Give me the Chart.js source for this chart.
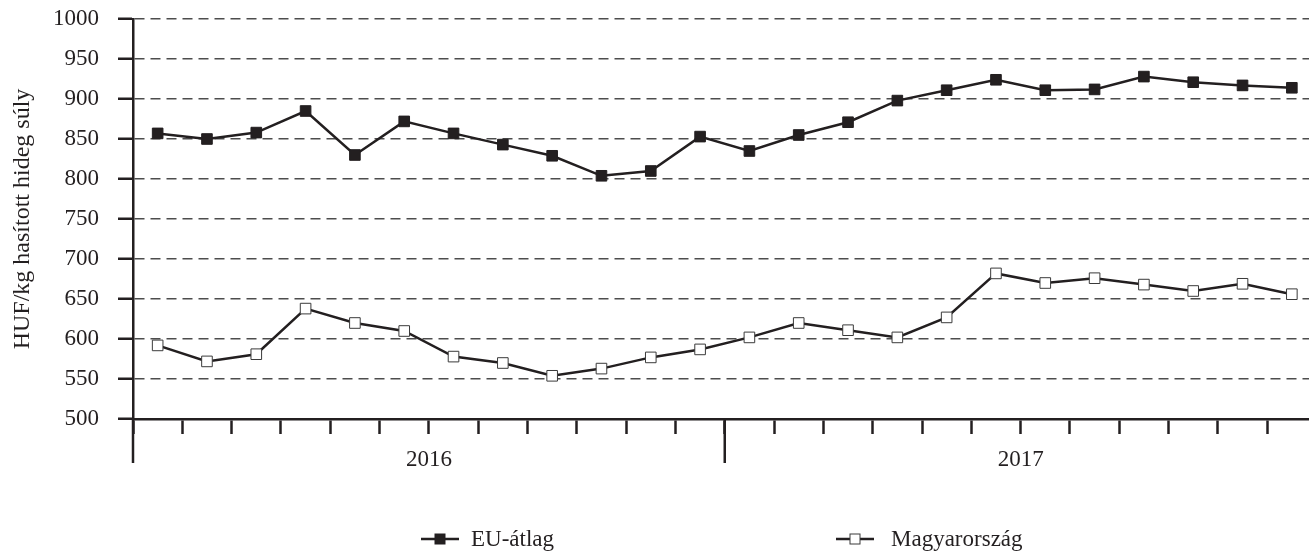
<!DOCTYPE html>
<html lang="hu">
<head>
    <meta charset="UTF-8">
    <title>Vágott sertés ára</title>
    <script src="https://cdn.jsdelivr.net/npm/chart.js"></script>
    <style>
        html, body { margin: 0; padding: 0; background: #fff; overflow: hidden; }
        .chart-box { width: 1309px; height: 553px; overflow: hidden; }
        canvas { display: block; }
    </style>
</head>
<body>
    <div class="chart-box">
        <!-- a vászon kicsit szélesebb, a jobb szél kilóg, mint az eredetin -->
        <canvas id="priceChart" width="1325" height="553"></canvas>
    </div>

    <script>
        // havi adatok, 2016-2017
        const months = ["2016-01", "2016-02", "2016-03", "2016-04", "2016-05", "2016-06",
                        "2016-07", "2016-08", "2016-09", "2016-10", "2016-11", "2016-12",
                        "2017-01", "2017-02", "2017-03", "2017-04", "2017-05", "2017-06",
                        "2017-07", "2017-08", "2017-09", "2017-10", "2017-11", "2017-12"];
        const years = ["2016", "2017"];
        const euValues = [857, 850, 858, 885, 830, 872, 857, 843, 829, 804, 810, 853,
                          835, 855, 871, 898, 911, 924, 911, 912, 928, 921, 917, 914];
        const huValues = [592, 572, 581, 638, 620, 610, 578, 570, 554, 563, 577, 587,
                          602, 620, 611, 602, 627, 682, 670, 676, 668, 660, 669, 656];
        const yTicks = [500, 550, 600, 650, 700, 750, 800, 850, 900, 950, 1000];

        const ink = "#231f20";
        const font = "Liberation Serif";
        const fontSize = 23;

        // évek, hosszú osztások és jelmagyarázat
        const extras = {
            id: "extras",
            afterDraw(chart) {
                const ctx = chart.ctx;
                const x = chart.scales.x;
                const bottom = x.top;
                const perYear = months.length / years.length;
                ctx.save();
                ctx.strokeStyle = ink;
                ctx.lineWidth = 2.5;
                for (let i = 0; i < years.length; i++) {
                    const x0 = i === 0 ? x.left : (x.getPixelForValue(i * perYear - 1) + x.getPixelForValue(i * perYear)) / 2;
                    ctx.beginPath();
                    ctx.moveTo(x0, bottom);
                    ctx.lineTo(x0, bottom + 44);
                    ctx.stroke();
                }
                ctx.fillStyle = ink;
                ctx.font = fontSize + "px '" + font + "'";
                ctx.textAlign = "center";
                ctx.textBaseline = "alphabetic";
                years.forEach((yr, i) => {
                    const a = x.getPixelForValue(i * perYear);
                    const b = x.getPixelForValue((i + 1) * perYear - 1);
                    ctx.fillText(yr, (a + b) / 2, bottom + 47);
                });

                // jelmagyarázat
                const items = [{ cx: 440, tx: 471 }, { cx: 855, tx: 891 }];
                const ly = 539;
                chart.data.datasets.forEach((ds, i) => {
                    const it = items[i];
                    ctx.strokeStyle = ink;
                    ctx.lineWidth = 2.5;
                    ctx.beginPath();
                    ctx.moveTo(it.cx - 19, ly);
                    ctx.lineTo(it.cx + 19, ly);
                    ctx.stroke();
                    ctx.fillStyle = ds.pointBackgroundColor;
                    ctx.fillRect(it.cx - 5, ly - 5, 10, 10);
                    ctx.lineWidth = 1;
                    ctx.strokeStyle = ds.pointBorderColor;
                    ctx.strokeRect(it.cx - 5, ly - 5, 10, 10);
                    ctx.fillStyle = ink;
                    ctx.textAlign = "left";
                    ctx.textBaseline = "middle";
                    ctx.fillText(ds.label, it.tx, ly + 1);
                });
                ctx.restore();
            }
        };

        const ctx = document.getElementById("priceChart").getContext("2d");
        new Chart(ctx, {
            type: "line",
            data: {
                labels: months,
                datasets: [
                    {
                        label: "EU-átlag",
                        data: euValues,
                        borderColor: ink,
                        borderWidth: 2.5,
                        pointStyle: "rect",
                        pointRadius: 7.5,
                        pointBackgroundColor: ink,
                        pointBorderColor: ink,
                        pointBorderWidth: 1,
                        tension: 0
                    },
                    {
                        label: "Magyarország",
                        data: huValues,
                        borderColor: ink,
                        borderWidth: 2.5,
                        pointStyle: "rect",
                        pointRadius: 7.5,
                        pointBackgroundColor: "#ffffff",
                        pointBorderColor: "#3a3a3a",
                        pointBorderWidth: 1,
                        tension: 0
                    }
                ]
            },
            options: {
                responsive: false,
                animation: false,
                layout: { padding: { top: 19, right: 0, bottom: 0, left: 0 } },
                plugins: {
                    legend: { display: false },
                    tooltip: { enabled: false }
                },
                scales: {
                    x: {
                        offset: true,
                        grid: {
                            offset: true,
                            drawOnChartArea: false,
                            tickLength: 15,
                            tickWidth: 2.5,
                            tickColor: ink
                        },
                        border: { color: ink, width: 2.5 },
                        ticks: { display: false },
                        afterFit(scale) { scale.height = 134; }
                    },
                    y: {
                        min: 500,
                        max: 1000,
                        afterBuildTicks(scale) { scale.ticks = yTicks.map(v => ({ value: v })); },
                        grid: {
                            color: "#4d4d4d",
                            lineWidth: 1.5,
                            tickLength: 15,
                            tickWidth: 2.5,
                            tickColor: ink,
                            tickBorderDash: []
                        },
                        border: { color: ink, width: 2.5, dash: [10, 6] },
                        ticks: {
                            color: ink,
                            padding: 19,
                            font: { family: font, size: fontSize },
                            callback: v => String(v)
                        },
                        title: {
                            display: true,
                            text: "HUF/kg hasított hideg súly",
                            color: ink,
                            padding: { top: 8, bottom: 0 },
                            font: { family: font, size: 24 }
                        },
                        afterFit(scale) {
                            scale.width = 133;
                            scale.paddingTop = 0;
                            scale.paddingBottom = 0;
                        }
                    }
                }
            },
            plugins: [extras]
        });
    </script>
</body>
</html>
